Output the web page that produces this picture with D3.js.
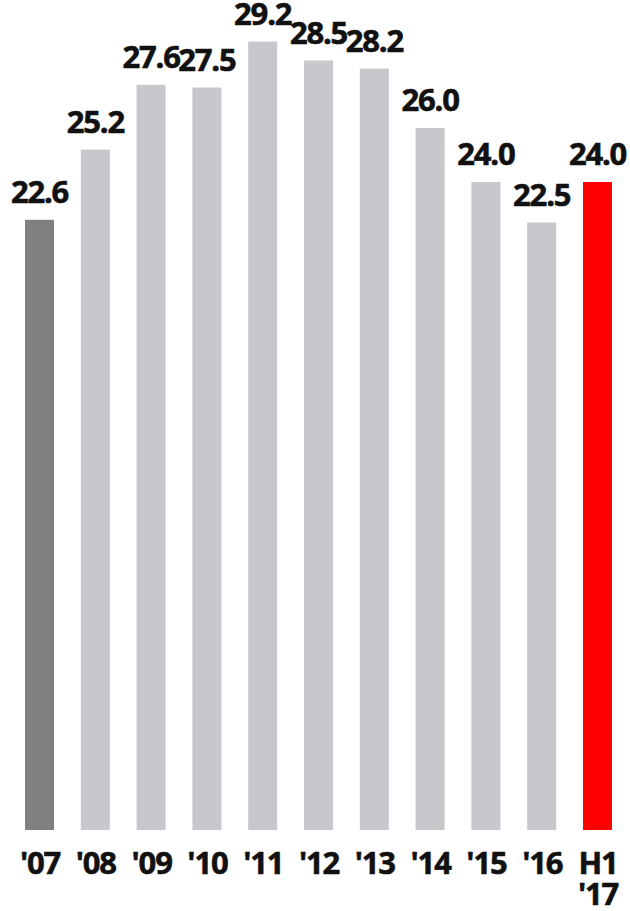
<!DOCTYPE html>
<html>
<head>
<meta charset="utf-8">
<script src="https://cdn.jsdelivr.net/npm/d3@7"></script>
<style>
  html, body { margin: 0; padding: 0; background: #fff; }
  svg { display: block; }
  text { font-family: "Open Sans", "Liberation Sans", sans-serif; font-weight: 700; fill: #111; }
</style>
</head>
<body>
<svg id="chart" width="630" height="911"></svg>
<script>
// Yearly values, last one is the first half of 2017
const categories = ["'07", "'08", "'09", "'10", "'11", "'12", "'13", "'14", "'15", "'16", "H1 '17"];
const values = [22.6, 25.2, 27.6, 27.5, 29.2, 28.5, 28.2, 26.0, 24.0, 22.5, 24.0];
const barColors = ["#808080", "#c8c7cc", "#c8c7cc", "#c8c7cc", "#c8c7cc", "#c8c7cc",
                   "#c8c7cc", "#c8c7cc", "#c8c7cc", "#c8c7cc", "#ff0000"];

const svg = d3.select("#chart");
const baseY = 830;
const barW = 29;
const fontSize = "31px";
const tracking = "-1.2px";

const x = d3.scalePoint()
  .domain(categories)
  .range([39.5, 597.5]);

const y = d3.scaleLinear()
  .domain([0, 30])
  .range([baseY, 20]);

const data = categories.map((c, i) => ({ cat: c, value: values[i], color: barColors[i] }));

// Bars
svg.append("g")
  .selectAll("rect")
  .data(data)
  .join("rect")
  .attr("x", d => x(d.cat) - barW / 2)
  .attr("y", d => y(d.value))
  .attr("width", barW)
  .attr("height", d => y(0) - y(d.value))
  .attr("fill", d => d.color);

// Value labels above each bar
svg.append("g")
  .selectAll("text")
  .data(data)
  .join("text")
  .attr("x", d => x(d.cat))
  .attr("y", d => y(d.value) - 17)
  .attr("text-anchor", "middle")
  .style("font-size", fontSize)
  .style("letter-spacing", tracking)
  .attr("stroke", "#111")
  .attr("stroke-width", 0.6)
  .text(d => d.value.toFixed(1));

// Category axis (labels only)
const axis = svg.append("g")
  .attr("transform", `translate(0,${baseY})`)
  .call(d3.axisBottom(x).tickSize(0).tickFormat(d => d));

axis.select(".domain").remove();
axis.selectAll(".tick text")
  .attr("y", 44)
  .attr("dy", null)
  .style("font-size", fontSize)
  .style("letter-spacing", tracking)
  .style("font-family", "\"Open Sans\", \"Liberation Sans\", sans-serif")
  .style("font-weight", 700)
  .attr("fill", "#111")
  .attr("stroke", "#111")
  .attr("stroke-width", 0.6)
  .each(function (d) {
    const parts = d.split(" ");
    const t = d3.select(this);
    t.text(null);
    parts.forEach((p, i) => {
      t.append("tspan")
        .attr("x", 0)
        .attr("dy", i === 0 ? 0 : 31)
        .text(p);
    });
  });
</script>
</body>
</html>
